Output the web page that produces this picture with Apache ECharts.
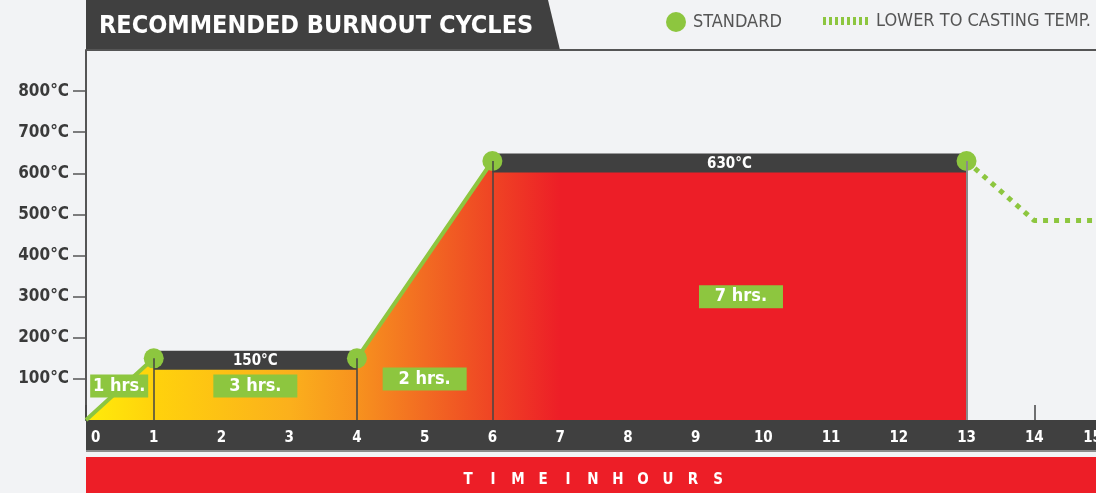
<!DOCTYPE html>
<html>
<head>
<meta charset="utf-8">
<script src="https://cdn.jsdelivr.net/npm/echarts@6/dist/echarts.min.js"></script>
<style>html,body{margin:0;padding:0;background:#F2F3F5;}#c{width:1096px;height:493px;}</style>
</head>
<body>
<div id="c"></div>
<script>
// ---- data ----
const standardHours = [0, 1, 4, 6, 13];
const standardTemps = [0, 150, 150, 630, 630];
const coolHours = [13, 14, 15];
const coolTemps = [630, 485, 485];
const holdStart = [1, 6];
const holdEnd = [4, 13];
const holdTemp = [150, 630];
const holdLabels = ['150°C', '630°C'];
const durLabels = ['1 hrs.', '3 hrs.', '2 hrs.', '7 hrs.'];
const durHours = [0.49, 2.5, 5.0, 9.67];
const durTemps = [83, 83, 100, 300];
const durWidths = [58, 84, 84, 84];
const xTicks = [0,1,2,3,4,5,6,7,8,9,10,11,12,13,14,15];
const yTicks = [100,200,300,400,500,600,700,800];
const yMin = 0, yMax = 900;
const axisTitle = 'TIME IN HOURS';

const COND = "'DejaVu Sans Condensed','DejaVu Sans',sans-serif";
const GREEN = '#8DC63F';
const DARK = '#404040';
const RED = '#ED1E27';

const chart = echarts.init(document.getElementById('c'), null, {renderer: 'canvas'});

const linePts = standardHours.map((h, i) => [h, standardTemps[i]]);
const coolPts = coolHours.map((h, i) => [h, coolTemps[i]]);
const dotPts = linePts.slice(1);
const holdData = holdStart.map((s, i) => [s, holdEnd[i], holdTemp[i]]);
const durData = durHours.map((h, i) => ({value: [h, durTemps[i]], label: {width: durWidths[i]}}));
const vLines = [1, 2, 3].map(i => [{coord: [standardHours[i], 0]}, {coord: [standardHours[i], standardTemps[i]]}]);
vLines.push([{coord: [standardHours[4], 0], lineStyle: {color: '#8a8a8a', width: 2}}, {coord: [standardHours[4], standardTemps[4]]}]);

const words = axisTitle.split(' ');
const spaced = words.map(w => w.split('').map(ch => '{a|' + ch + '}').join('')).join('{g| }');

// striped legend icon (dotted line)
let stripes = 'path://';
for (let i = 0; i < 8; i++) stripes += 'M' + (i * 6) + ' 0h3v8h-3z ';

const option = {
  animation: false,
  backgroundColor: '#F2F3F5',
  grid: {left: 86, right: -6, top: 50, bottom: 73, containLabel: false, outerBoundsMode: 'none'},
  title: [
    {text: 'RECOMMENDED BURNOUT CYCLES', left: 94, top: 9, z: 10,
     textStyle: {color: '#fff', fontSize: 25, fontWeight: 'bold', fontFamily: COND}},
    {text: spaced, left: 588, top: 468, textAlign: 'center',
     textStyle: {rich: {
       a: {width: 25, align: 'center', color: '#fff', fontSize: 15, fontWeight: 'bold', fontFamily: COND},
       g: {width: 0, fontSize: 15}
     }}}
  ],
  legend: [
    {data: [{name: 'STANDARD', icon: 'circle'}], left: 666, top: 12, padding: 0, itemWidth: 20, itemHeight: 20, itemGap: 0,
     selectedMode: false, textStyle: {color: '#555', fontSize: 18, fontFamily: COND, padding: [2, 0, 0, 2]}},
    {data: [{name: 'LOWER TO CASTING TEMP.', icon: stripes}], left: 823, top: 12, padding: 0, itemWidth: 45, itemHeight: 20,
     selectedMode: false, itemStyle: {color: GREEN},
     textStyle: {color: '#555', fontSize: 18, fontFamily: COND, padding: [2, 0, 0, 3]}}
  ],
  graphic: [
    {type: 'polygon', z: -1, shape: {points: [[86, 0], [548, 0], [560, 50], [86, 50]]}, style: {fill: DARK}},
    {type: 'line', z: -1, shape: {x1: 86, y1: 50, x2: 1096, y2: 50}, style: {stroke: '#555', lineWidth: 2}},
    {type: 'rect', z: -1, shape: {x: 86, y: 420, width: 1010, height: 30}, style: {fill: DARK}},
    {type: 'rect', z: -1, shape: {x: 86, y: 450, width: 1010, height: 2}, style: {fill: '#8a8a8a'}},
    {type: 'rect', z: -1, shape: {x: 86, y: 457, width: 1010, height: 36}, style: {fill: RED}}
  ],
  xAxis: {
    type: 'value', min: xTicks[0], max: xTicks[xTicks.length - 1], interval: 1,
    axisLine: {show: true, lineStyle: {color: DARK, width: 1}},
    axisTick: {show: true, inside: true, length: 15, lineStyle: {color: '#444', width: 1.5}},
    axisLabel: {show: true, color: '#fff', fontWeight: 'bold', fontSize: 15, fontFamily: COND, margin: 11,
      alignMinLabel: 'left', alignMaxLabel: 'right',
      formatter: v => v === xTicks[0] ? '{z|' + v + '}' : String(v),
      rich: {z: {padding: [0, 0, 0, 5], color: '#fff', fontWeight: 'bold', fontSize: 15, fontFamily: COND}}},
    splitLine: {show: false}
  },
  yAxis: {
    type: 'value', min: yMin, max: yMax, interval: 100,
    axisLine: {show: true, lineStyle: {color: '#555', width: 2}},
    axisTick: {show: true, length: 13, customValues: yTicks, lineStyle: {color: '#555', width: 1.5}},
    axisLabel: {color: '#3a3a3a', fontWeight: 'bold', fontSize: 17, fontFamily: COND, margin: 17,
      customValues: yTicks, formatter: v => v + '°C'},
    splitLine: {show: false}
  },
  series: [
    {
      name: 'area', type: 'line', data: linePts, showSymbol: false, symbol: 'none', z: 2,
      lineStyle: {color: GREEN, width: 4},
      areaStyle: {opacity: 1, color: new echarts.graphic.LinearGradient(0, 0, 1, 0, [
        {offset: 0, color: '#FFEC0A'},
        {offset: 1/13, color: '#FFD20C'},
        {offset: 3/13, color: '#FBB01C'},
        {offset: 4/13, color: '#F7921E'},
        {offset: 5/13, color: '#F26B22'},
        {offset: 6/13, color: '#EF4424'},
        {offset: 7/13, color: RED},
        {offset: 1, color: RED}
      ])},
      markLine: {silent: true, symbol: 'none', animation: false, label: {show: false},
        lineStyle: {color: '#444', width: 1.5, type: 'solid'}, data: vLines}
    },
    {
      name: 'LOWER TO CASTING TEMP.', type: 'line', data: coolPts, showSymbol: false, symbol: 'none', z: 2,
      lineStyle: {color: GREEN, width: 5, type: [5, 6]}, itemStyle: {color: GREEN}
    },
    {
      name: 'hold', type: 'custom', z: 3, data: holdData,
      encode: {x: [0, 1], y: 2},
      renderItem: (params, api) => {
        const s = api.coord([api.value(0), api.value(2)]);
        const e = api.coord([api.value(1), api.value(2)]);
        const cy = s[1] + 2;
        return {type: 'group', children: [
          {type: 'rect', shape: {x: s[0], y: cy - 9.5, width: e[0] - s[0], height: 19}, style: {fill: DARK}},
          {type: 'text', style: {text: holdLabels[params.dataIndex], x: (s[0] + e[0]) / 2, y: cy + 1,
            align: 'center', verticalAlign: 'middle', fill: '#fff', font: 'bold 15px ' + COND}}
        ]};
      }
    },
    {
      name: 'STANDARD', type: 'scatter', data: dotPts, symbol: 'circle', symbolSize: 20, z: 4,
      itemStyle: {color: GREEN, opacity: 1}
    },
    {
      name: 'dur', type: 'scatter', data: durData, symbolSize: 0, z: 5,
      itemStyle: {color: 'rgba(0,0,0,0)', opacity: 1},
      label: {show: true, position: 'inside', formatter: p => durLabels[p.dataIndex],
        backgroundColor: GREEN, color: '#fff', fontWeight: 'bold', fontSize: 18, fontFamily: COND,
        height: 23, lineHeight: 24, align: 'center', verticalAlign: 'middle', padding: 0, opacity: 1}
    }
  ]
};
chart.setOption(option);
</script>
</body>
</html>
